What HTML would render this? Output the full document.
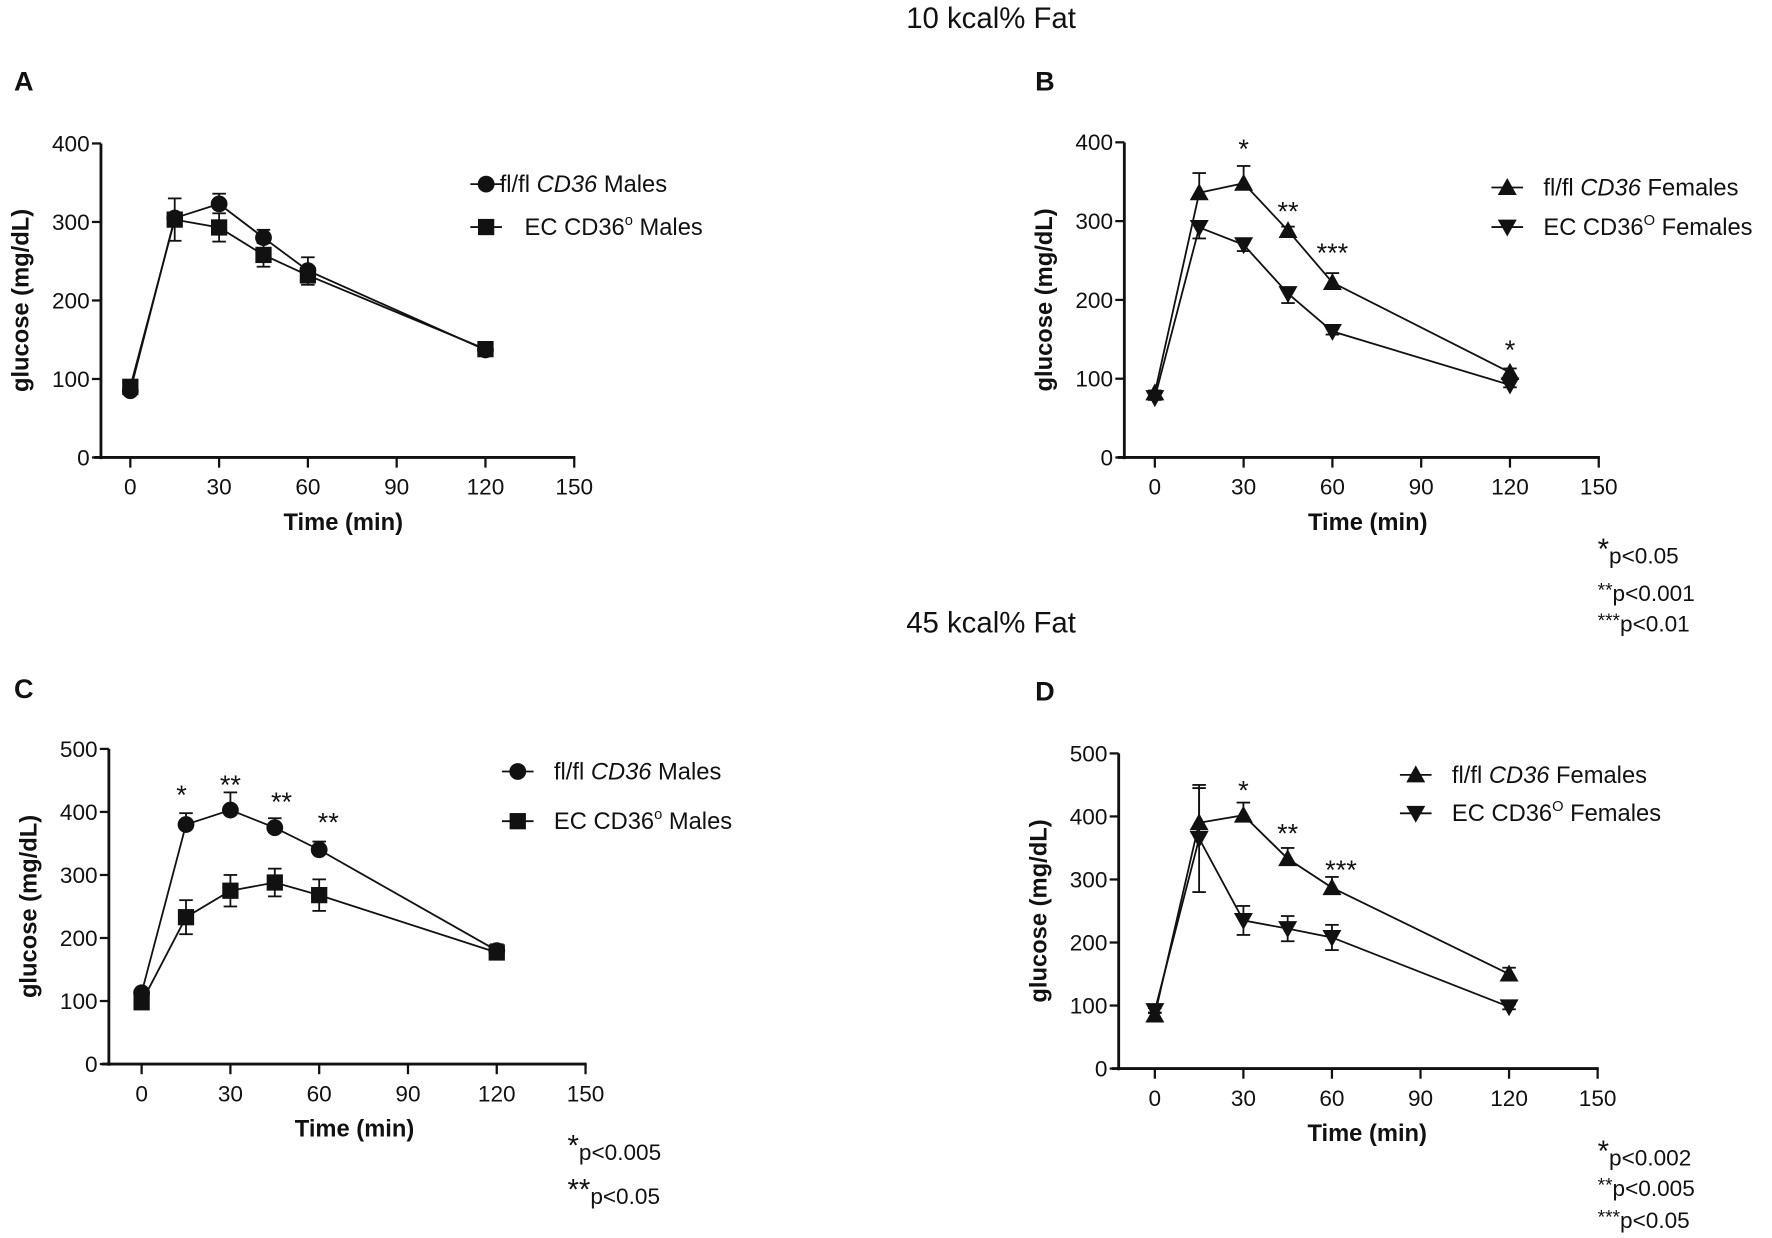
<!DOCTYPE html>
<html><head><meta charset="utf-8">
<style>
html,body{margin:0;padding:0;background:#fff;}
svg{display:block;}
text{font-family:"Liberation Sans Narrow","Liberation Sans",sans-serif;fill:#111;}
.t{font-family:"Liberation Sans",sans-serif;}
</style></head>
<body>
<svg id="fig" width="1772" height="1238" viewBox="0 0 1568 1096" xmlns="http://www.w3.org/2000/svg">
<text class="t" x="877" y="25" font-size="26" text-anchor="middle">10 kcal% Fat</text>
<text class="t" x="877" y="560" font-size="26" text-anchor="middle">45 kcal% Fat</text>
</svg>
<script>
const times = [0, 15, 30, 45, 60, 120];
const xTicks = [0, 30, 60, 90, 120, 150];
const aFl = [85, 305, 323, 280, 238, 137];
const aFlErr = [4, 5, 13, 10, 17, 8];
const aEc = [90, 303, 293, 258, 232, 138];
const aEcErr = [4, 27, 18, 15, 12, 8];
const bFl = [82, 336, 348, 288, 222, 108];
const bFlErr = [3, 25, 22, 5, 12, 5];
const bEc = [76, 292, 270, 208, 160, 92];
const bEcErr = [3, 14, 8, 12, 4, 3];
const cFl = [113, 380, 403, 375, 340, 180];
const cFlErr = [4, 18, 28, 15, 13, 10];
const cEc = [98, 233, 275, 288, 268, 177];
const cEcErr = [4, 27, 25, 22, 25, 10];
const dFl = [85, 390, 402, 333, 287, 150];
const dFlErr = [4, 55, 20, 17, 17, 10];
const dEc = [92, 365, 235, 222, 208, 98];
const dEcErr = [4, 85, 23, 20, 20, 4];
const ticks400 = [0, 100, 200, 300, 400];
const ticks500 = [0, 100, 200, 300, 400, 500];

const NS = "http://www.w3.org/2000/svg";
const svg = document.getElementById('fig');
function mk(tag, attrs, parent){
  const e = document.createElementNS(NS, tag);
  for (const k in attrs) e.setAttribute(k, attrs[k]);
  (parent||svg).appendChild(e);
  return e;
}
function marker(g, shape, cx, cy, s){
  let e;
  if (shape==='circle') e = mk('circle',{cx:cx,cy:cy,r:s*0.62,fill:'#111'},g);
  else if (shape==='square') e = mk('rect',{x:cx-s*0.6,y:cy-s*0.6,width:s*1.2,height:s*1.2,fill:'#111'},g);
  else if (shape==='up') e = mk('polygon',{points:`${cx},${cy-s*0.7} ${cx-s*0.7},${cy+s*0.55} ${cx+s*0.7},${cy+s*0.55}`,fill:'#111'},g);
  else e = mk('polygon',{points:`${cx},${cy+s*0.7} ${cx-s*0.7},${cy-s*0.55} ${cx+s*0.7},${cy-s*0.55}`,fill:'#111'},g);
  return e;
}
function panel(p){
  const g = mk('g',{});
  
  
  const xs = v => p.x0 + (v/150)*(p.x150-p.x0);
  const ys = v => p.y0 - (v/p.ymax)*(p.y0-p.ytop);
  const lab = mk('text',{x:p.lx,y:p.ly,'font-size':24,'font-weight':'bold',class:'t'},g);
  lab.textContent = p.id.toUpperCase();
  
  
  const ya = mk('line',{x1:p.ax,y1:p.ytop,x2:p.ax,y2:p.y0+1.5,stroke:'#111','stroke-width':2.5},g);
  
  
  const xa = mk('line',{x1:p.ax-6,y1:p.y0,x2:xs(150)+1,y2:p.y0,stroke:'#111','stroke-width':2.5},g);
  
  
  p.yt.forEach(v=>{
    mk('line',{x1:p.ax-8,y1:ys(v),x2:p.ax,y2:ys(v),stroke:'#111','stroke-width':2},g);
    const t = mk('text',{x:p.ax-10,y:ys(v)+7,'font-size':20,'text-anchor':'end'},g);
    t.textContent = v;
    
    
  });
  xTicks.forEach(v=>{
    mk('line',{x1:xs(v),y1:p.y0,x2:xs(v),y2:p.y0+9,stroke:'#111','stroke-width':2},g);
    const t = mk('text',{x:xs(v),y:p.y0+33,'font-size':20,'text-anchor':'middle'},g);
    t.textContent = v;
    
    
  });
  const xt = mk('text',{x:(xs(0)+xs(150))/2-8,y:p.y0+64,'font-size':21,'font-weight':'bold','text-anchor':'middle'},g);
  xt.textContent = 'Time (min)';
  
  
  const cy = (p.y0+p.ytop)/2;
  const yt = mk('text',{x:0,y:0,'font-size':21,'font-weight':'bold','text-anchor':'middle',class:'t',transform:`translate(${p.ax-64},${cy}) rotate(-90)`},g);
  yt.textContent = 'glucose (mg/dL)';
  
  
  p.series.forEach((s, si)=>{
    const sg = mk('g',{},g);
    
    
    const pts = times.map((t,i)=>`${xs(t)},${ys(s.v[i])}`).join(' ');
    mk('polyline',{points:pts,fill:'none',stroke:'#111','stroke-width':1.6},sg);
    times.forEach((t,i)=>{
      const x = xs(t), e = s.e[i];
      const up = s.dir>=0, lo = s.dir<=0;
      const top = ys(s.v[i]+(up?e:0)), bot = ys(s.v[i]-(lo?e:0));
      mk('line',{x1:x,y1:top,x2:x,y2:bot,stroke:'#111','stroke-width':1.6},sg);
      if (up) mk('line',{x1:x-6,y1:top,x2:x+6,y2:top,stroke:'#111','stroke-width':1.6},sg);
      if (lo) mk('line',{x1:x-6,y1:bot,x2:x+6,y2:bot,stroke:'#111','stroke-width':1.6},sg);
      const m = marker(sg, s.shape, x, ys(s.v[i]), 12);
      
      
    });
    const lg = mk('g',{},g);
    
    
    const ly = p.legY[si];
    mk('line',{x1:p.legX-14,y1:ly,x2:p.legX+14,y2:ly,stroke:'#111','stroke-width':1.6},lg);
    marker(lg, s.shape, p.legX, ly, 12);
    const lt = mk('text',{x:p.legX+p.legDx[si],y:ly+7,'font-size':21},lg);
    lt.innerHTML = s.label;
  });
  p.stars.forEach(st=>{
    const t = mk('text',{x:xs(st[0])+(st[3]||0),y:st[2],'font-size':24,'text-anchor':'middle'},g);
    t.textContent = st[1];
    
    
  });
  p.notes.forEach(n=>{
    const t = mk('text',{x:n[0],y:n[1],'font-size':20},g);
    t.innerHTML = n[2];
    
    
  });
}
const flM = 'fl/fl <tspan font-style="italic">CD36</tspan> Males';
const flF = 'fl/fl <tspan font-style="italic">CD36</tspan> Females';
const sm = s => `<tspan font-size="17" dy="-4">${s}</tspan><tspan dy="4">`;
panel({id:'a',lx:12,ly:80,ax:89,x0:115,x150:508,y0:405,ytop:127,ymax:400,yt:ticks400,
  series:[{key:'flfl-males',v:aFl,e:aFlErr,shape:'circle',dir:1,label:flM},
          {key:'ec-males',v:aEc,e:aEcErr,shape:'square',dir:0,label:'EC CD36<tspan dy="-9" font-size="13">o</tspan><tspan dy="9">  Males</tspan>'}],
  legX:430,legY:[163,201],legDx:[12,34],stars:[],notes:[]});
panel({id:'b',lx:916,ly:80,ax:995,x0:1022,x150:1415,y0:405,ytop:126,ymax:400,yt:ticks400,
  series:[{key:'flfl-females',v:bFl,e:bFlErr,shape:'up',dir:1,label:flF},
          {key:'ec-females',v:bEc,e:bEcErr,shape:'down',dir:-1,label:'EC CD36<tspan dy="-9" font-size="13">O</tspan><tspan dy="9"> Females</tspan>'}],
  legX:1334,legY:[166,201],legDx:[32,32],
  stars:[[30,'*',140],[45,'**',195],[60,'***',232,0],[120,'*',318]],
  notes:[[1414,499,'<tspan font-size="26" dy="-4">*</tspan><tspan dy="4">p&lt;0.05</tspan>'],[1414,532,sm('**')+'p&lt;0.001</tspan>'],[1414,559,sm('***')+'p&lt;0.01</tspan>']]});
panel({id:'c',lx:12,ly:618,ax:96,x0:125,x150:518,y0:942,ytop:663,ymax:500,yt:ticks500,
  series:[{key:'flfl-males',v:cFl,e:cFlErr,shape:'circle',dir:1,label:flM},
          {key:'ec-males',v:cEc,e:cEcErr,shape:'square',dir:0,label:'EC CD36<tspan dy="-9" font-size="13">o</tspan><tspan dy="9"> Males</tspan>'}],
  legX:458,legY:[683,727],legDx:[32,32],
  stars:[[15,'*',712,-4],[30,'**',703],[45,'**',718,6],[60,'**',736,8]],
  notes:[[502,1027,'<tspan font-size="26" dy="-4">*</tspan><tspan dy="4">p&lt;0.005</tspan>'],[502,1066,'<tspan font-size="26" dy="-4">**</tspan><tspan dy="4">p&lt;0.05</tspan>']]});
panel({id:'d',lx:916,ly:620,ax:990,x0:1022,x150:1414,y0:946,ytop:667,ymax:500,yt:ticks500,
  series:[{key:'flfl-females',v:dFl,e:dFlErr,shape:'up',dir:1,label:flF},
          {key:'ec-females',v:dEc,e:dEcErr,shape:'down',dir:0,label:'EC CD36<tspan dy="-9" font-size="13">O</tspan><tspan dy="9"> Females</tspan>'}],
  legX:1253,legY:[686,720],legDx:[32,32],
  stars:[[30,'*',708],[45,'**',746],[60,'***',778,8]],
  notes:[[1414,1032,'<tspan font-size="26" dy="-4">*</tspan><tspan dy="4">p&lt;0.002</tspan>'],[1414,1059,sm('**')+'p&lt;0.005</tspan>'],[1414,1087,sm('***')+'p&lt;0.05</tspan>']]});
</script>
</body></html>
